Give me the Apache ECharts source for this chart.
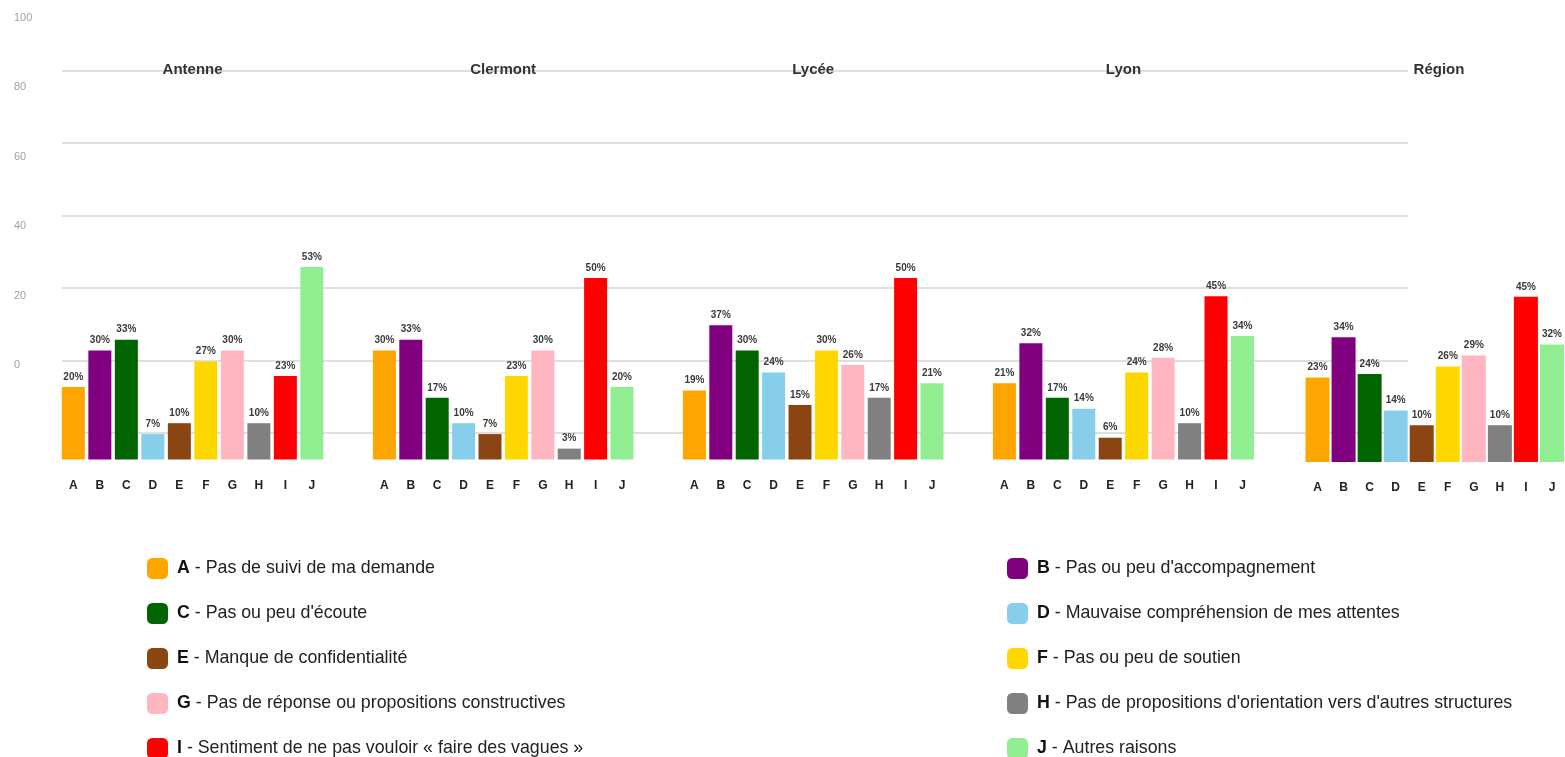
<!DOCTYPE html>
<html>
<head>
<meta charset="utf-8">
<script src="https://cdn.jsdelivr.net/npm/echarts@6/dist/echarts.min.js"></script>
<style>
html,body{margin:0;padding:0;background:#fff;}
#chart{width:1565px;height:757px;}
</style>
</head>
<body>
<div id="chart"></div>
<script>
// ---------- DATA ----------
const categories = ['A','B','C','D','E','F','G','H','I','J'];
const reasons = [
  'Pas de suivi de ma demande',
  "Pas ou peu d'accompagnement",
  "Pas ou peu d'écoute",
  'Mauvaise compréhension de mes attentes',
  'Manque de confidentialité',
  'Pas ou peu de soutien',
  'Pas de réponse ou propositions constructives',
  "Pas de propositions d'orientation vers d'autres structures",
  'Sentiment de ne pas vouloir « faire des vagues »',
  'Autres raisons'
];
const panelNames = ['Antenne','Clermont','Lycée','Lyon','Région'];
const antenne  = [20,30,33,7,10,27,30,10,23,53];
const clermont = [30,33,17,10,7,23,30,3,50,20];
const lycee    = [19,37,30,24,15,30,26,17,50,21];
const lyon     = [21,32,17,14,6,24,28,10,45,34];
const region   = [23,34,24,14,10,26,29,10,45,32];
const yTickMin = 0, yTickMax = 100, yTickStep = 20;

// ---------- STYLE / LAYOUT ----------
const colors = ['#FFA500','#800080','#006400','#87CEEB','#8B4513','#FFD700','#FFB6C1','#808080','#FF0000','#90EE90'];
const panelData = [antenne, clermont, lycee, lyon, region];
const panelBoxes = [
  {left:60.1,  width:265, top:96.5, height:363, barWidth:23},
  {left:371.2, width:264, top:96.5, height:363, barWidth:23},
  {left:681.2, width:264, top:96.5, height:363, barWidth:23},
  {left:991.2, width:264.5, top:96.5, height:363, barWidth:23},
  {left:1304.5, width:269, top:95, height:367, barWidth:24}
];
const FONT = "'Liberation Sans', Arial, Helvetica, sans-serif";

const grids = [
  {left:62, top:70.7, width:1346, height:362},   // background lines
  {left:50, top:18, width:10, height:347}         // left tick labels
];
const xAxes = [
  {gridIndex:0, type:'value', show:false, min:0, max:1},
  {gridIndex:1, type:'value', show:false, min:0, max:1}
];
const yAxes = [
  {gridIndex:0, type:'value', min:0, max:5, interval:1,
   axisLine:{show:false}, axisTick:{show:false}, axisLabel:{show:false},
   splitLine:{show:true, lineStyle:{color:'#d4d4d4', width:1.5}}},
  {gridIndex:1, type:'value', min:yTickMin, max:yTickMax, interval:yTickStep,
   axisLine:{show:false}, axisTick:{show:false}, splitLine:{show:false},
   axisLabel:{align:'left', margin:36, color:'#a0a0a0', fontSize:11, fontFamily:FONT}}
];
const series = [];
const titles = [];

panelBoxes.forEach((b, i) => {
  grids.push({left:b.left, width:b.width, top:b.top, height:b.height});
  const gi = grids.length - 1;
  xAxes.push({
    gridIndex:gi, type:'category', data:categories,
    axisLine:{show:false}, axisTick:{show:false},
    axisLabel:{margin:20, fontSize:12, fontWeight:'bold', color:'#222', fontFamily:FONT}
  });
  yAxes.push({gridIndex:gi, type:'value', min:0, max:100, show:false});
  series.push({
    type:'bar', name:panelNames[i], xAxisIndex:gi, yAxisIndex:gi,
    data:panelData[i], barWidth:b.barWidth,
    itemStyle:{color:(p) => colors[p.dataIndex]},
    label:{show:true, position:'top', distance:5, formatter:'{c}%',
      fontSize:10, fontWeight:'bold', color:'#3a3a3a', fontFamily:FONT},
    silent:true
  });
  titles.push({
    text:panelNames[i], left:b.left + b.width/2, top:62, textAlign:'center', padding:0,
    textStyle:{fontSize:15, fontWeight:'bold', color:'#333', fontFamily:FONT}
  });
});

// legend helper series (empty) so the legend shows the ten reasons
const legendNames = categories.map((c, i) => c + ' - ' + reasons[i]);
legendNames.forEach((n, i) => {
  series.push({type:'line', name:n, data:[], xAxisIndex:0, yAxisIndex:0, color:colors[i],
    itemStyle:{color:colors[i]}, lineStyle:{color:colors[i]}});
});

const legendCommon = {
  orient:'vertical', top:558, height:240, itemWidth:21, itemHeight:21, itemGap:24,
  icon:'roundRect', selectedMode:false, padding:0,
  formatter:(n) => '{b|' + n.charAt(0) + '}' + n.slice(1),
  textStyle:{fontSize:17.8, color:'#222', fontFamily:FONT, padding:[0,0,0,4],
    rich:{b:{fontSize:17.8, fontWeight:'bold', color:'#111', fontFamily:FONT}}}
};

const option = {
  backgroundColor:'#fff',
  animation:false,
  title:titles,
  grid:grids,
  xAxis:xAxes,
  yAxis:yAxes,
  legend:[
    Object.assign({}, legendCommon, {left:147, data:legendNames.filter((_, i) => i % 2 === 0)}),
    Object.assign({}, legendCommon, {left:1007, data:legendNames.filter((_, i) => i % 2 === 1)})
  ],
  series:series
};

const chart = echarts.init(document.getElementById('chart'), null, {renderer:'canvas'});
chart.setOption(option);
</script>
</body>
</html>
